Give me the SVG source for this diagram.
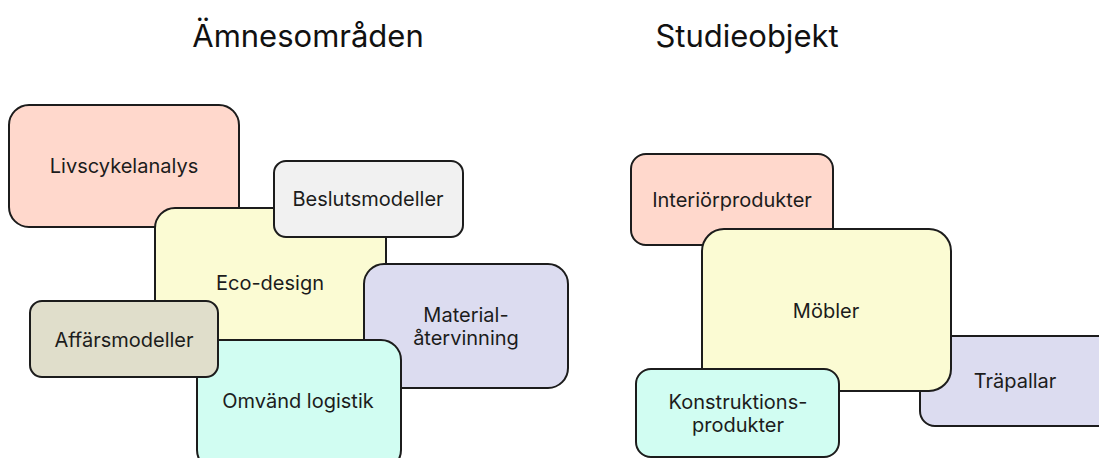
<svg xmlns="http://www.w3.org/2000/svg" width="1099" height="458" viewBox="0 0 1099 458">
<style>
.box{stroke:#1c1c1c;stroke-width:2}
.lbl{font-family:Inter,"Noto Sans","Liberation Sans",sans-serif;font-size:20px;fill:#1c1c1c;text-anchor:middle}
.title{font-family:Inter,"Noto Sans","Liberation Sans",sans-serif;font-size:31px;fill:#111;text-anchor:middle}
</style>
<rect width="1099" height="458" fill="#ffffff"/>
<text class="title" x="308" y="47">Ämnesområden</text>
<text class="title" x="747" y="47">Studieobjekt</text>
<g id="connectors"/>
<g id="livscykelanalys"><rect class="box" x="9" y="105" width="230" height="122" rx="20" fill="#FFD8CC"/><text class="lbl" x="124" y="173">Livscykelanalys</text></g>
<g id="eco-design"><rect class="box" x="155" y="208" width="231" height="152" rx="20" fill="#FBFBD3"/><text class="lbl" x="270" y="290">Eco-design</text></g>
<g id="beslutsmodeller"><rect class="box" x="274" y="161" width="189" height="76" rx="12" fill="#F1F1F1"/><text class="lbl" x="368" y="206">Beslutsmodeller</text></g>
<g id="materialatervinning"><rect class="box" x="364" y="264" width="204" height="124" rx="20" fill="#DCDCF0"/><text class="lbl" x="466" y="322">Material-</text><text class="lbl" x="466" y="345">återvinning</text></g>
<g id="omvand-logistik"><rect class="box" x="197" y="340" width="204" height="130" rx="20" fill="#D1FDF2"/><text class="lbl" x="298" y="408">Omvänd logistik</text></g>
<g id="affarsmodeller"><rect class="box" x="30" y="301" width="188" height="76" rx="12" fill="#E0DECB"/><text class="lbl" x="124" y="347">Affärsmodeller</text></g>
<g id="trapallar"><rect class="box" x="920" y="336" width="200" height="90" rx="15" fill="#DCDCF0"/><text class="lbl" x="1015" y="388">Träpallar</text></g>
<g id="interiorprodukter"><rect class="box" x="631" y="154" width="202" height="91" rx="15" fill="#FFD8CC"/><text class="lbl" x="732" y="207">Interiörprodukter</text></g>
<g id="mobler"><rect class="box" x="702" y="229" width="249" height="162" rx="22" fill="#FBFBD3"/><text class="lbl" x="826" y="318">Möbler</text></g>
<g id="konstruktionsprodukter"><rect class="box" x="636" y="369" width="203" height="88" rx="15" fill="#D1FDF2"/><text class="lbl" x="738" y="409">Konstruktions-</text><text class="lbl" x="738" y="432">produkter</text></g>
</svg>
